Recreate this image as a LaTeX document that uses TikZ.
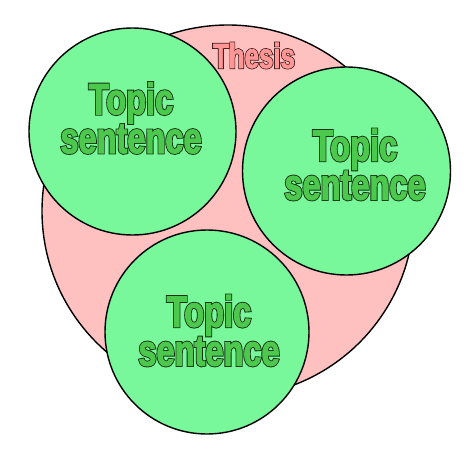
\documentclass[tikz,border=0pt]{standalone}
\usepackage{fontspec}
\usepackage{tikz}
\usetikzlibrary{positioning}
\newfontfamily\blockfont{Liberation Sans}[UprightFont=* Bold, FakeStretch=0.74, FakeBold=2]
\newfontfamily\blockedge{Liberation Sans}[UprightFont=* Bold, FakeStretch=0.74, FakeBold=6]
\definecolor{thesisfill}{HTML}{FFC0C0}
\definecolor{thesisink}{HTML}{FF9696}
\definecolor{thesisedge}{HTML}{301010}
\definecolor{topicfill}{HTML}{78F89A}
\definecolor{topicink}{HTML}{4CC84C}
\definecolor{topicedge}{HTML}{143014}

\begin{document}
\begin{tikzpicture}
    [x=1pt, y=1pt,
     bubble/.style={circle, draw=black, line width=1.4pt, inner sep=0pt},
     topic/.style={align=center, font=\blockfont\fontsize{44}{30}\selectfont, text=topicink, inner sep=0pt},
     topicback/.style={topic, font=\blockedge\fontsize{44}{30}\selectfont, text=topicedge}]
    \useasboundingbox (0,0) rectangle (471,448);

    \node (thesis) [bubble, fill=thesisfill, minimum size=372pt] at (228,237) {};
    \node (thesisback) [topicback, font=\blockedge\fontsize{35}{35}\selectfont, text=thesisedge] at (254,392.5) {Thesis};
    \node (thesislabel) [topic, font=\blockfont\fontsize{35}{35}\selectfont, text=thesisink] at (thesisback) {Thesis};

    \node (first) [bubble, fill=topicfill, minimum size=207pt] at (132.5,316.5) {};
    \node (second) [bubble, fill=topicfill, minimum size=208pt] at (346.5,277) {};
    \node (third) [bubble, fill=topicfill, minimum size=204pt] at (207,116) {};

    \node (firstback) [topicback] at (131,330) {Topic\\sentence};
    \node (firstlabel) [topic] at (firstback) {Topic\\sentence};
    \node (secondback) [topicback] at (355,283.5) {Topic\\sentence};
    \node (secondlabel) [topic] at (secondback) {Topic\\sentence};
    \node (thirdback) [topicback] at (209,117.5) {Topic\\sentence};
    \node (thirdlabel) [topic] at (thirdback) {Topic\\sentence};
  \end{tikzpicture}
\end{document}
